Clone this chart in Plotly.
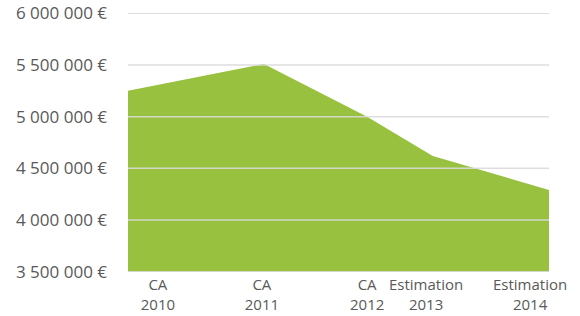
import plotly.graph_objects as go

categories = ["CA<br>2010", "CA<br>2011", "CA<br>2012", "Estimation<br>2013", "Estimation<br>2014"]
values = [5250000, 5510000, 5000000, 4620000, 4290000]
# position of each year along the (non-uniform) horizontal axis, as drawn in the source
x_pos = [0.0, 0.323, 0.568, 0.724, 1.0]
label_pos = [0.071, 0.318, 0.568, 0.708, 0.955]
y_ticks = [3500000, 4000000, 4500000, 5000000, 5500000, 6000000]
y_ticktext = [f"{v:,.0f} €".replace(",", " ") for v in y_ticks]

GREEN = "#97C13E"
XFONT = dict(family="Open Sans", size=15, color="#595959")
YFONT = dict(family="Open Sans", size=17, color="#595959")

fig = go.Figure()
fig.add_trace(go.Scatter(
    x=x_pos, y=values, mode="lines", line=dict(width=0, color=GREEN),
    fill="tozeroy", fillcolor=GREEN, hoverinfo="skip", showlegend=False,
))

# gridlines drawn above the area, as in the source
for v in y_ticks:
    fig.add_shape(type="line", xref="paper", x0=0, x1=1, yref="y", y0=v, y1=v,
                  line=dict(color="rgba(218,218,218,0.9)", width=1.5), layer="above")

fig.update_layout(
    width=580, height=316,
    margin=dict(l=128, r=31, t=13, b=44),
    paper_bgcolor="white", plot_bgcolor="white",
    font=XFONT,
)
fig.update_xaxes(
    range=[0, 1], tickvals=label_pos, ticktext=categories, tickangle=0,
    showgrid=False, zeroline=False, showline=False, ticks="",
    tickfont=XFONT, ticklabelstandoff=2, automargin=False, fixedrange=True,
)
fig.update_yaxes(
    range=[3497000, 6003000], tickvals=y_ticks, ticktext=y_ticktext,
    showgrid=False, zeroline=False,
    showline=False, ticks="", ticklabelstandoff=20, tickfont=YFONT,
    automargin=False, fixedrange=True,
)
fig.write_html("out.html", config={"displayModeBar": False},
               post_script="document.body.style.margin='0';")
